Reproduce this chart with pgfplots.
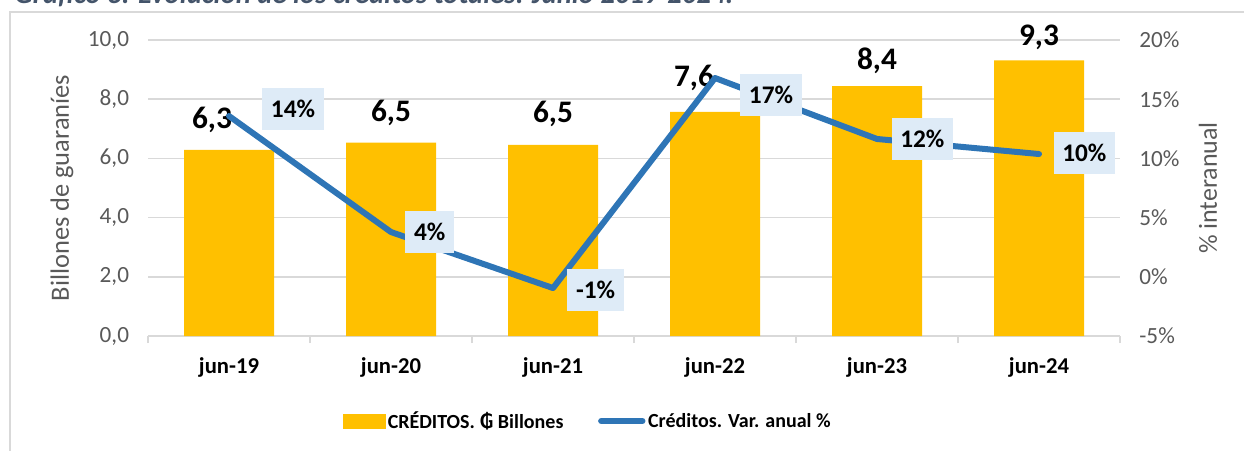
\documentclass[border=0pt]{standalone}
\usepackage{fontspec}
\setmainfont{Carlito}
\newfontfamily\dejavu{DejaVu Sans}
\usepackage{pgfplots}
\pgfplotsset{compat=1.18}
\usepackage{pgfplotstable}

\definecolor{barcol}{HTML}{FFC000}
\definecolor{linecol}{HTML}{2E75B6}
\definecolor{boxcol}{HTML}{DEEBF7}
\definecolor{gridcol}{HTML}{D9D9D9}
\definecolor{txtgray}{HTML}{595959}
\definecolor{titlecol}{HTML}{44546A}

% credit stock, billions of guaranies (dx, dy = label offsets in pt)
\pgfplotstableread{
x  y     dx      dy
0  6.29  -12.75  22.4
1  6.53  0       22.3
2  6.46  0       23
3  7.57  -15.75  25.5
4  8.44  0       19
5  9.31  0       17
}\bars

% year-on-year change, %
\pgfplotstableread{
x  y      dx  dy     lab
0  13.58  48  5.25   14
1  3.78   29  0      4
2  -0.95  32  -1.5   -1
3  16.79  42  -12.75 17
4  11.64  34  0      12
5  10.37  34  0.75   10
}\rates

\pgfplotsset{
  common/.style={
    at={(111pt,85.5pt)}, anchor=south west,
    scale only axis, width=729pt, height=222pt,
    xmin=-0.5, xmax=5.5,
    clip=false,
    major tick length=0pt,
    tick label style={font=\fontsize{17.4}{19}\selectfont, text=txtgray},
    /pgf/number format/assume math mode=true,
  },
}

\begin{document}
\begin{tikzpicture}
% outer frame
\draw[gridcol, line width=1.2pt] (7.5pt,-10pt) -- (7.5pt,328.5pt) -- (945pt,328.5pt);
\node[anchor=base west, text=titlecol, font=\bfseries\itshape\fontsize{21.5}{23}\selectfont]
  at (7.5pt,334.5pt) {Gráfico 3. Evolución de los créditos totales: Junio 2019-2024.};

\begin{axis}[common,
  ymin=0, ymax=10, ytick={0,2,...,10},
  yticklabel style={/pgf/number format/fixed, /pgf/number format/fixed zerofill,
    /pgf/number format/precision=1, /pgf/number format/use comma, xshift=-10.7pt},
  axis x line*=bottom, axis y line*=left,
  y axis line style={draw=none},
  x axis line style={gridcol, line width=1.5pt},
  ymajorgrids, major grid style={gridcol, line width=1.2pt},
  xtick={0,...,5},
  xticklabels={jun-19,jun-20,jun-21,jun-22,jun-23,jun-24},
  xticklabel style={font=\bfseries\fontsize{17}{19}\selectfont, text=black, yshift=-13pt},
  minor xtick={-0.5,0.5,...,5.5},
  tick align=outside,
  minor tick length=5.25pt,
  minor tick style={gridcol, line width=1.5pt},
  ylabel={Billones de guaraníes},
  ylabel style={at={(axis description cs:0,0.5)}, anchor=center, yshift=64.5pt,
    font=\fontsize{19.8}{21}\selectfont, text=txtgray},
]
\addplot[ybar, bar width=67.5pt, fill=barcol, draw=none,
  visualization depends on={\thisrow{dx} \as \bdx},
  visualization depends on={\thisrow{dy} \as \bdy},
  nodes near coords={\pgfmathprintnumber[fixed,fixed zerofill,precision=1,use comma]{\pgfplotspointmeta}},
  every node near coord/.append style={anchor=center, xshift=\bdx pt, yshift=\bdy pt,
    font=\bfseries\fontsize{23.5}{25}\selectfont, text=black},
] table[x=x, y=y] {\bars};
\end{axis}

\begin{axis}[common,
  ymin=-5, ymax=20, ytick={-5,0,...,20},
  yticklabel={\pgfmathprintnumber{\tick}\%},
  yticklabel style={xshift=11pt},
  axis x line=none, axis y line*=right,
  y axis line style={draw=none},
  ylabel={\% interanual},
  ylabel style={at={(axis description cs:1,0.5)}, anchor=center, yshift=-66pt,
    font=\fontsize{19.5}{21}\selectfont, text=txtgray},
  legend style={at={(0.2006,-0.2872)}, anchor=west, draw=none, fill=none,
    inner sep=0pt, legend columns=2,
    font=\bfseries\fontsize{15}{17}\selectfont,
    nodes={inner xsep=2pt, inner ysep=0pt},
    /tikz/every even column/.append style={column sep=24pt}},
  legend cell align=left,
]
\addlegendimage{legend image code/.code={\fill[barcol] (0pt,-5.25pt) rectangle (31pt,5.25pt);}}
\addlegendentry{CRÉDITOS. {\dejavu\bfseries ₲} Billones}
\addplot[linecol, line width=4.5pt, line join=round, line cap=round,
  legend image code/.code={\draw[linecol, line width=4.5pt, line cap=round] (2pt,0) -- (33pt,0);},
  visualization depends on={\thisrow{dx} \as \ldx},
  visualization depends on={\thisrow{dy} \as \ldy},
  point meta=explicit symbolic,
  nodes near coords={\pgfplotspointmeta\%},
  every node near coord/.append style={anchor=center, xshift=\ldx pt, yshift=\ldy pt,
    fill=boxcol, text=black, inner xsep=6.5pt, minimum height=31pt,
    font=\bfseries\fontsize{19}{21}\selectfont},
] table[x=x, y=y, meta=lab] {\rates};
\addlegendentry{Créditos. Var. anual \%}
\end{axis}

\pgfresetboundingbox
\path[use as bounding box] (0pt,0pt) rectangle (933pt,337.5pt);
\end{tikzpicture}
\end{document}
